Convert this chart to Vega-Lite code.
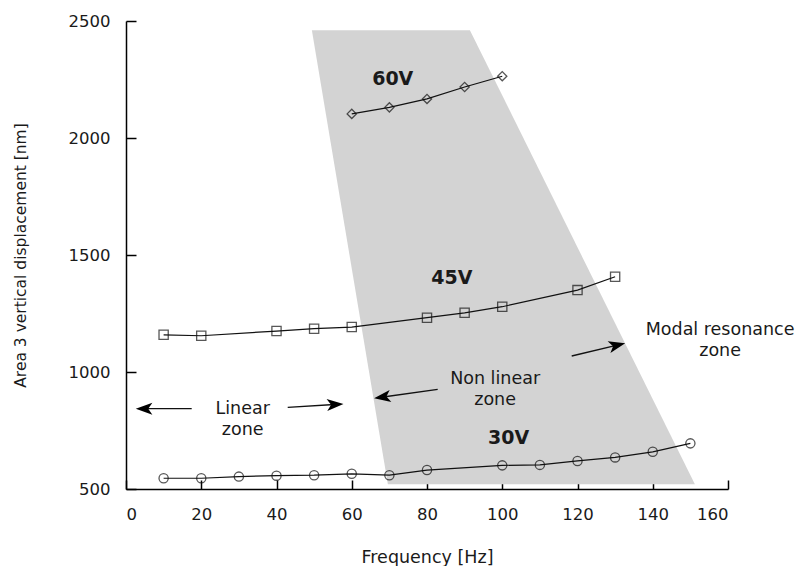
{
  "$schema": "https://vega.github.io/schema/vega-lite/v6.json",
  "width": 602,
  "height": 468,
  "autosize": {"type": "none"},
  "padding": {"left": 126, "top": 21, "right": 72, "bottom": 77},
  "background": "white",
  "config": {
    "view": {"stroke": null},
    "text": {"font": "DejaVu Sans", "color": "#1a1a1a"}
  },
  "datasets": {
    "series": [
      {"series": "30V", "freq": 10, "disp": 546},
      {"series": "30V", "freq": 20, "disp": 546},
      {"series": "30V", "freq": 30, "disp": 553},
      {"series": "30V", "freq": 40, "disp": 557},
      {"series": "30V", "freq": 50, "disp": 559},
      {"series": "30V", "freq": 60, "disp": 565},
      {"series": "30V", "freq": 70, "disp": 559},
      {"series": "30V", "freq": 80, "disp": 581},
      {"series": "30V", "freq": 100, "disp": 601},
      {"series": "30V", "freq": 110, "disp": 603},
      {"series": "30V", "freq": 120, "disp": 620},
      {"series": "30V", "freq": 130, "disp": 635},
      {"series": "30V", "freq": 140, "disp": 659},
      {"series": "30V", "freq": 150, "disp": 695},
      {"series": "45V", "freq": 10, "disp": 1159},
      {"series": "45V", "freq": 20, "disp": 1155},
      {"series": "45V", "freq": 40, "disp": 1175},
      {"series": "45V", "freq": 50, "disp": 1185},
      {"series": "45V", "freq": 60, "disp": 1192},
      {"series": "45V", "freq": 80, "disp": 1232},
      {"series": "45V", "freq": 90, "disp": 1253},
      {"series": "45V", "freq": 100, "disp": 1279},
      {"series": "45V", "freq": 120, "disp": 1350},
      {"series": "45V", "freq": 130, "disp": 1407},
      {"series": "60V", "freq": 60, "disp": 2103},
      {"series": "60V", "freq": 70, "disp": 2131},
      {"series": "60V", "freq": 80, "disp": 2167},
      {"series": "60V", "freq": 90, "disp": 2218},
      {"series": "60V", "freq": 100, "disp": 2264}
    ],
    "shade": [
      {"disp": 2461, "freq": 49.4, "freq2": 91.4},
      {"disp": 520, "freq": 69.6, "freq2": 151.2}
    ],
    "arrows": [
      {"id": "a1", "freq": 17.46, "disp": 843.2, "hfreq": 5.05, "hdisp": 843.2},
      {"id": "a2", "freq": 42.98, "disp": 849.1, "hfreq": 55.36, "hdisp": 861.1},
      {"id": "a3", "freq": 82.84, "disp": 926.1, "hfreq": 68.36, "hdisp": 893.2},
      {"id": "a4", "freq": 118.46, "disp": 1068.4, "hfreq": 130.29, "hdisp": 1113.7}
    ],
    "vlabels": [
      {"label": "60V", "freq": 70.9, "disp": 2254},
      {"label": "45V", "freq": 86.6, "disp": 1400},
      {"label": "30V", "freq": 101.7, "disp": 720}
    ],
    "zones": [
      {"label": "Linear\nzone", "freq": 31.0, "disp": 844},
      {"label": "Non linear\nzone", "freq": 98.1, "disp": 972},
      {"label": "Modal resonance\nzone", "freq": 157.9, "disp": 1181}
    ]
  },
  "encoding": {
    "x": {
      "field": "freq",
      "type": "quantitative",
      "scale": {"domain": [0, 160], "nice": false, "zero": false},
      "axis": {
        "title": "Frequency [Hz]",
        "values": [0, 20, 40, 60, 80, 100, 120, 140, 160],
        "grid": false,
        "tickSize": -9,
        "labelPadding": 26,
        "domainColor": "#000",
        "tickColor": "#000",
        "domainWidth": 1.5,
        "tickWidth": 1.5,
        "labelFont": "DejaVu Sans",
        "labelFontSize": 16.5,
        "labelColor": "#1a1a1a",
        "titleFont": "DejaVu Sans",
        "titleFontSize": 17.5,
        "titleFontWeight": "normal",
        "titleColor": "#1a1a1a",
        "titlePadding": 26
      }
    },
    "y": {
      "field": "disp",
      "type": "quantitative",
      "scale": {"domain": [500, 2500], "nice": false, "zero": false},
      "axis": {
        "title": "Area 3 vertical displacement [nm]",
        "values": [500, 1000, 1500, 2000, 2500],
        "format": "d",
        "grid": false,
        "tickSize": -10,
        "labelPadding": 26,
        "domainColor": "#000",
        "tickColor": "#000",
        "domainWidth": 1.5,
        "tickWidth": 1.5,
        "labelFont": "DejaVu Sans",
        "labelFontSize": 16.5,
        "labelColor": "#1a1a1a",
        "titleFont": "DejaVu Sans",
        "titleFontSize": 15.5,
        "titleFontWeight": "normal",
        "titleColor": "#1a1a1a",
        "titlePadding": 40
      }
    }
  },
  "layer": [
    {
      "data": {"name": "shade"},
      "mark": {"type": "area", "orient": "horizontal", "color": "#d3d3d3"},
      "encoding": {
        "x2": {"field": "freq2"}
      }
    },
    {
      "data": {"name": "series"},
      "mark": {"type": "line", "color": "#111", "strokeWidth": 1.2},
      "encoding": {
        "detail": {"field": "series", "type": "nominal"}
      }
    },
    {
      "data": {"name": "series"},
      "mark": {"type": "point", "filled": false, "color": "#111", "strokeWidth": 1.3, "size": 85},
      "encoding": {
        "shape": {
          "field": "series",
          "type": "nominal",
          "scale": {"domain": ["30V", "45V", "60V"], "range": ["circle", "square", "diamond"]},
          "legend": null
        }
      }
    },
    {
      "data": {"name": "arrows"},
      "mark": {"type": "rule", "color": "#111", "strokeWidth": 1.3},
      "encoding": {
        "x2": {"field": "hfreq"},
        "y2": {"field": "hdisp"}
      }
    },
    {
      "data": {"name": "arrows"},
      "transform": [{"filter": "datum.id === 'a1'"}],
      "mark": {"type": "point", "shape": "M0,-1L0.65,0.8L0,0.35L-0.65,0.8Z", "filled": true, "color": "#000", "size": 340, "angle": 270, "opacity": 1},
      "encoding": {
        "x": {"field": "hfreq", "type": "quantitative"},
        "y": {"field": "hdisp", "type": "quantitative"}
      }
    },
    {
      "data": {"name": "arrows"},
      "transform": [{"filter": "datum.id === 'a2'"}],
      "mark": {"type": "point", "shape": "M0,-1L0.65,0.8L0,0.35L-0.65,0.8Z", "filled": true, "color": "#000", "size": 340, "angle": 86.6, "opacity": 1},
      "encoding": {
        "x": {"field": "hfreq", "type": "quantitative"},
        "y": {"field": "hdisp", "type": "quantitative"}
      }
    },
    {
      "data": {"name": "arrows"},
      "transform": [{"filter": "datum.id === 'a3'"}],
      "mark": {"type": "point", "shape": "M0,-1L0.65,0.8L0,0.35L-0.65,0.8Z", "filled": true, "color": "#000", "size": 340, "angle": 261.9, "opacity": 1},
      "encoding": {
        "x": {"field": "hfreq", "type": "quantitative"},
        "y": {"field": "hdisp", "type": "quantitative"}
      }
    },
    {
      "data": {"name": "arrows"},
      "transform": [{"filter": "datum.id === 'a4'"}],
      "mark": {"type": "point", "shape": "M0,-1L0.65,0.8L0,0.35L-0.65,0.8Z", "filled": true, "color": "#000", "size": 340, "angle": 76.6, "opacity": 1},
      "encoding": {
        "x": {"field": "hfreq", "type": "quantitative"},
        "y": {"field": "hdisp", "type": "quantitative"}
      }
    },
    {
      "data": {"name": "vlabels"},
      "mark": {"type": "text", "fontSize": 19, "fontWeight": "bold", "align": "center", "baseline": "middle"},
      "encoding": {
        "text": {"field": "label"}
      }
    },
    {
      "data": {"name": "zones"},
      "mark": {"type": "text", "fontSize": 17.5, "align": "center", "baseline": "middle", "lineBreak": "\n", "lineHeight": 21},
      "encoding": {
        "text": {"field": "label"}
      }
    }
  ]
}
